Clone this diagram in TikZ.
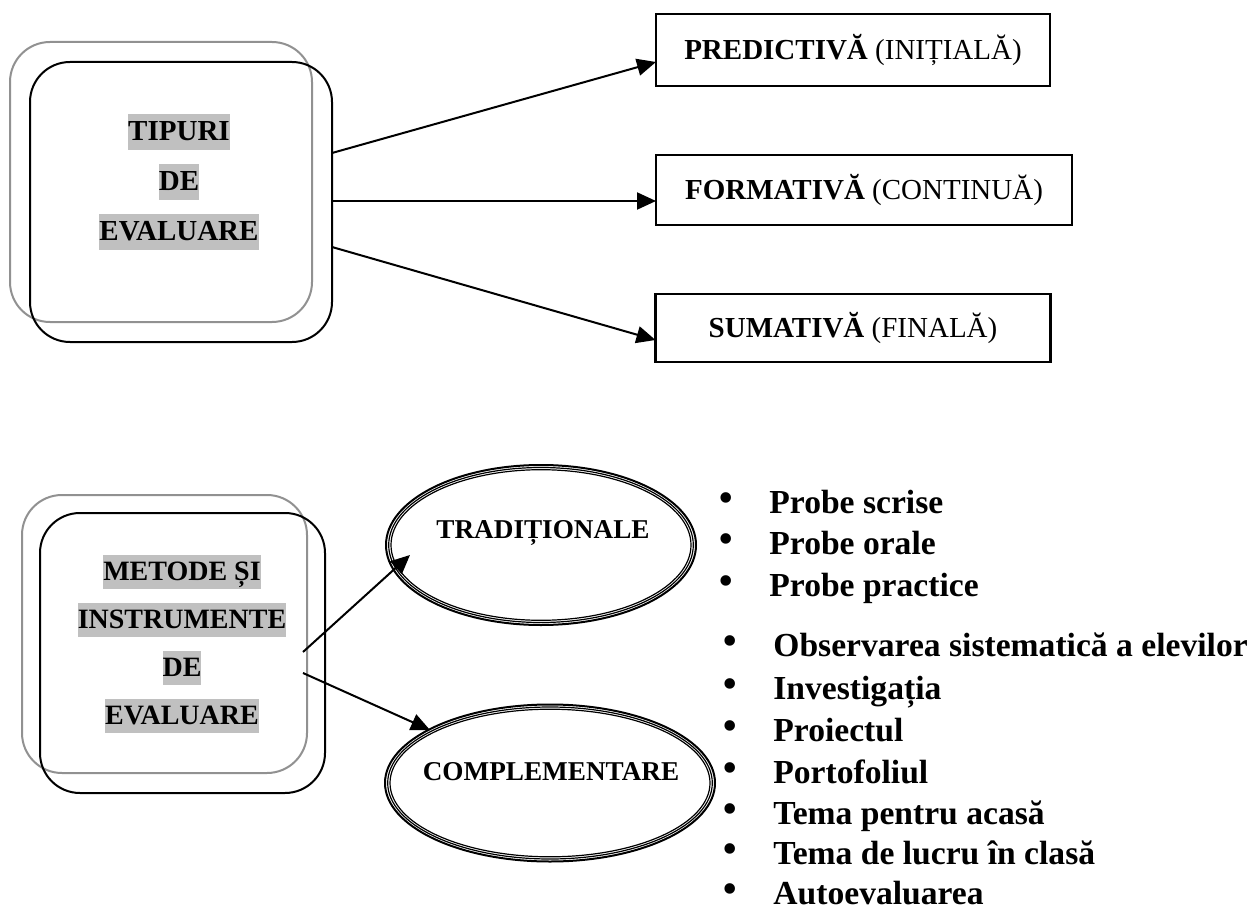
\documentclass[tikz,border=0pt]{standalone}
\usepackage{fontspec}
\setmainfont{Liberation Serif}
\usetikzlibrary{arrows.meta,shapes.geometric}
\definecolor{hlgray}{RGB}{192,192,192}
\definecolor{shgray}{RGB}{145,145,145}
\newcommand\hlstrut{\rule[-0.31em]{0pt}{1.24em}}
\newcommand\hlt[1]{{\setlength\fboxsep{0pt}\colorbox{hlgray}{\hlstrut#1}}}
\begin{document}
\begin{tikzpicture}[x=0.5pt,y=-0.5pt,
  backbox/.style={draw=shgray, line width=1pt, rounded corners=20pt, inner sep=0pt, outer sep=0pt},
  frontbox/.style={draw=black, line width=1pt, rounded corners=20pt, inner sep=0pt, outer sep=0pt},
  hltext/.style={align=center, font=\bfseries\fontsize{14.5}{25}\selectfont, inner sep=0pt},
  hltextb/.style={align=center, font=\bfseries\fontsize{14}{24}\selectfont, inner sep=0pt},
  typebox/.style={draw, line width=1.4pt, inner sep=0pt, outer sep=0pt, font=\fontsize{14.5}{17}\selectfont},
  conn/.style={line width=1pt, -{Triangle[length=9.5pt,width=8.5pt]}},
  ell/.style={ellipse, draw, line width=1pt, inner sep=0pt, outer sep=0pt},
  ellline/.style={line width=0.6pt},
  elltext/.style={font=\bfseries\fontsize{13.6}{16}\selectfont, inner sep=0pt},
  listitem/.style={anchor=base west, inner sep=0pt, font=\bfseries\fontsize{16.8}{20}\selectfont},
  bul/.style={inner sep=0pt, font=\fontsize{22}{24}\selectfont},
]
\useasboundingbox (0,0) rectangle (1252,909);

% ---------- top part ----------
\node[backbox, minimum width=151pt, minimum height=140pt] (tg) at (161,182) {};
\node[frontbox, minimum width=151pt, minimum height=140pt] (tb) at (181,202) {};
\node[hltext] (tt) at (179,182) {\hlt{TIPURI}\\\hlt{DE}\\\hlt{EVALUARE}};

\node[typebox, minimum width=197pt, minimum height=36pt] (pred) at (853,50) {\textbf{PREDICTIVĂ} (INIȚIALĂ)};
\node[typebox, minimum width=208pt, minimum height=35pt] (form) at (864,190) {\textbf{FORMATIVĂ} (CONTINUĂ)};
\node[typebox, minimum width=197.5pt, minimum height=34pt] (sum) at (853,328) {\textbf{SUMATIVĂ} (FINALĂ)};

\draw[conn] ([yshift=24.5pt]tb.east) -- ([yshift=-6pt]pred.west);
\draw[conn] ([yshift=0.5pt]tb.east) -- ([yshift=-5.5pt]form.west);
\draw[conn] ([yshift=-22.5pt]tb.east) -- ([yshift=-6pt]sum.west);

% ---------- bottom part ----------
\node[backbox, minimum width=142.5pt, minimum height=139pt] (bg) at (164.5,634) {};
\node[frontbox, minimum width=142.5pt, minimum height=140pt] (bb) at (182.5,653) {};
\node[hltextb] (bt) at (182,644) {\hlt{METODE ȘI}\\\hlt{INSTRUMENTE}\\\hlt{DE}\\\hlt{EVALUARE}};

\node[ell, minimum width=155pt, minimum height=80pt] (trad) at (541,545) {};
\draw[ellline] (trad.center) ellipse (152.3 and 77.5);
\draw[ellline] (trad.center) ellipse (150 and 75.3);
\node[elltext] (tradt) at (543,533) {TRADIȚIONALE};

\node[ell, minimum width=165pt, minimum height=78.5pt] (comp) at (550,783) {};
\draw[ellline] (comp.center) ellipse (162.3 and 76);
\draw[ellline] (comp.center) ellipse (160 and 73.8);
\node[elltext] (compt) at (551,772) {COMPLEMENTARE};

\draw[conn] ([xshift=-11pt,yshift=0.5pt]bb.east) -- ([xshift=-65.5pt,yshift=-5pt]trad.center);
\draw[conn] ([xshift=-11pt,yshift=-10pt]bb.east) -- ([xshift=-60pt,yshift=26.5pt]comp.center);

% ---------- lists ----------
\node[bul] (d1) at (726,503) {•};
\node[listitem] (i1) at (769,513) {Probe scrise};
\node[bul] (d2) at (726,544) {•};
\node[listitem] (i2) at (769,554) {Probe orale};
\node[bul] (d3) at (726,586) {•};
\node[listitem] (i3) at (769,596) {Probe practice};

\node[bul] (d4) at (730,646) {•};
\node[listitem] (i4) at (773,656) {Observarea sistematică a elevilor};
\node[bul] (d5) at (730,689) {•};
\node[listitem] (i5) at (773,699) {Investigația};
\node[bul] (d6) at (730,731) {•};
\node[listitem] (i6) at (773,741) {Proiectul};
\node[bul] (d7) at (730,773) {•};
\node[listitem] (i7) at (773,783) {Portofoliul};
\node[bul] (d8) at (730,814) {•};
\node[listitem] (i8) at (773,824) {Tema pentru acasă};
\node[bul] (d9) at (730,854) {•};
\node[listitem] (i9) at (773,864) {Tema de lucru în clasă};
\node[bul] (d10) at (730,894) {•};
\node[listitem] (i10) at (773,904) {Autoevaluarea};
\end{tikzpicture}
\end{document}
